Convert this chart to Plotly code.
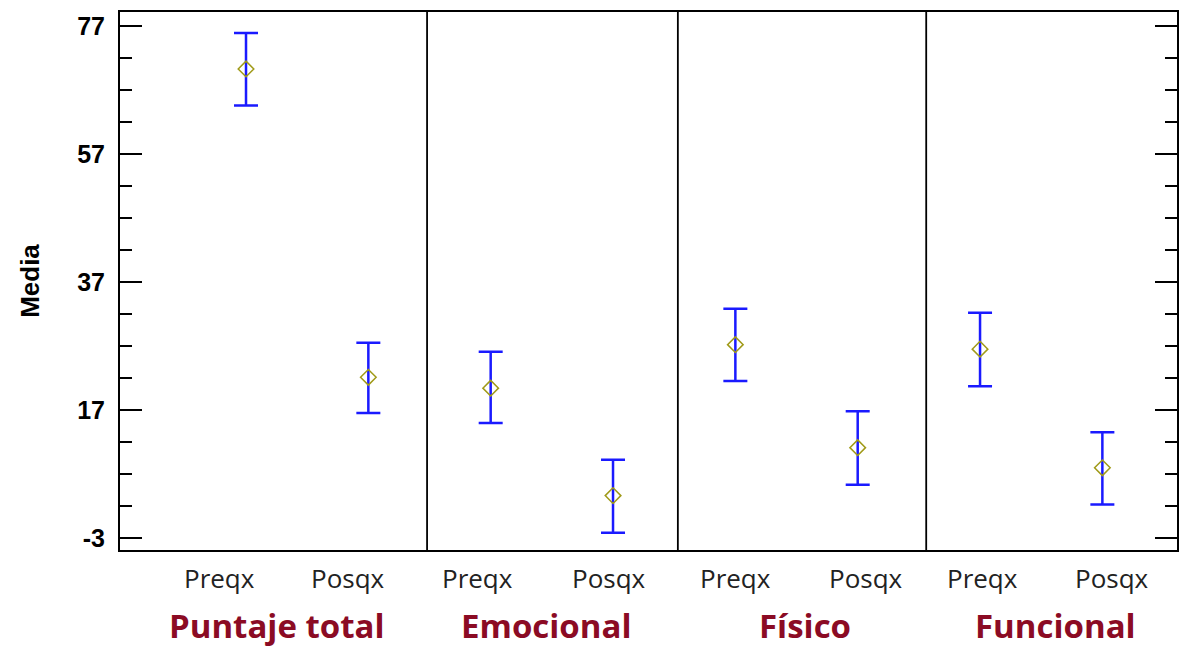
import plotly.graph_objects as go

groups = ["Puntaje total", "Emocional", "Físico", "Funcional"]
conditions = ["Preqx", "Posqx"]
means = [70.3, 22.1, 20.4, 3.6, 27.2, 11.1, 26.5, 7.95]
lower = [64.6, 16.5, 14.95, -2.2, 21.5, 5.3, 20.7, 2.2]
upper = [75.9, 27.5, 26.1, 9.2, 32.8, 16.8, 32.2, 13.5]
y_ticks = [-3, 17, 37, 57, 77]
y_tick_text = ["-3", "17", "37", "57", "77"]

# layout constants (positions on the numeric x scale)
xs = list(range(len(means)))
label_x = [-0.22, 0.83, 1.89, 2.97, 4.0, 5.07, 6.02, 7.08]
group_x = [0.25, 2.45, 4.57, 6.62]
dividers = [1.48, 3.53, 5.56]

err_plus = [u - m for u, m in zip(upper, means)]
err_minus = [m - l for m, l in zip(means, lower)]

fig = go.Figure()
fig.add_trace(go.Scatter(
    x=xs, y=means, mode="markers",
    marker=dict(symbol="diamond-open", size=12, color="#a09a18", line=dict(width=1.5)),
    error_y=dict(type="data", symmetric=False, array=err_plus, arrayminus=err_minus,
                 color="#1a1aff", thickness=2.5, width=12),
    showlegend=False, hoverinfo="y"))

for d in dividers:
    fig.add_shape(type="line", xref="x", yref="paper", x0=d, x1=d, y0=0, y1=1,
                  line=dict(color="black", width=1.8))

cond_labels = [conditions[i % 2] for i in range(len(means))]
for x, t in zip(label_x, cond_labels):
    fig.add_annotation(x=x, y=-0.052, xref="x", yref="paper", text=t, showarrow=False,
                       font=dict(family="Open Sans", size=26, color="#222222"),
                       xanchor="center", yanchor="middle")
for x, g in zip(group_x, groups):
    fig.add_annotation(x=x, y=-0.1407, xref="x", yref="paper", text=g, showarrow=False,
                       font=dict(family="Open Sans", size=33, color="#8B0B24", weight="bold"),
                       xanchor="center", yanchor="middle")

fig.update_layout(
    width=1191, height=649,
    margin=dict(l=120, r=14, t=10, b=99),
    paper_bgcolor="white", plot_bgcolor="white",
    xaxis=dict(range=[-1.03, 7.61], showticklabels=False, ticks="", showgrid=False,
               zeroline=False, showline=True, mirror=True, linecolor="black", linewidth=2),
    yaxis=dict(range=[-4.9, 79.2], tickvals=y_ticks, ticktext=y_tick_text,
               ticks="inside", ticklen=22, tickwidth=2, ticklabelstandoff=8,
               tickcolor="black", showgrid=False, zeroline=False, showline=True, mirror="ticks",
               linecolor="black", linewidth=2,
               tickfont=dict(family="Arial", size=25, color="black", weight="bold"),
               minor=dict(ticks="inside", ticklen=12, tickwidth=2, tickcolor="black",
                          tick0=-3, dtick=5, showgrid=False),
               title=dict(text="Media", font=dict(family="Arial", size=26, color="black", weight="bold"),
                          standoff=30)),
)

fig.write_html("out.html", config={"displayModeBar": False},
               post_script="document.body.style.margin='0px';")
